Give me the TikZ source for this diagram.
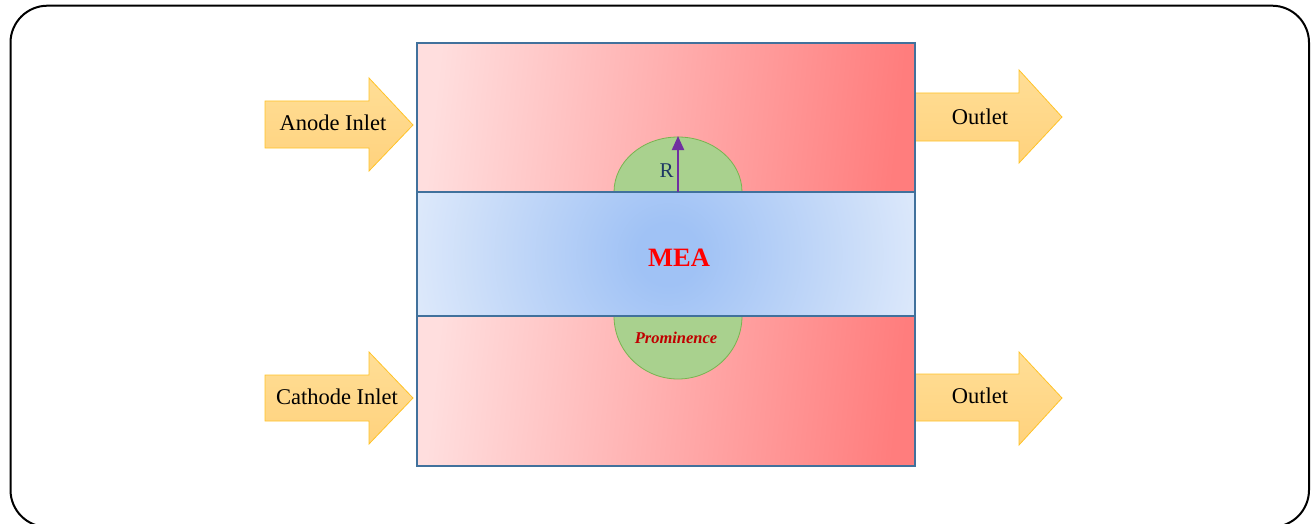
\documentclass[tikz,border=0pt]{standalone}
\usepackage{fontspec}
\setmainfont{Liberation Serif}
\usetikzlibrary{arrows.meta}
\definecolor{boxline}{RGB}{65,113,156}
\definecolor{chanL}{RGB}{255,222,222}
\definecolor{chanR}{RGB}{255,125,125}
\definecolor{meaEdge}{RGB}{226,236,251}
\definecolor{meaMid}{RGB}{160,194,245}
\definecolor{promFill}{RGB}{169,209,142}
\definecolor{promLine}{RGB}{120,180,80}
\definecolor{arrFillT}{RGB}{255,222,150}
\definecolor{arrFillB}{RGB}{255,210,125}
\definecolor{arrLine}{RGB}{255,195,40}
\definecolor{rArrow}{RGB}{112,48,160}
\definecolor{rText}{RGB}{31,56,100}
\definecolor{promText}{RGB}{192,0,0}
\pgfdeclareradialshading{meashade}{\pgfpoint{0bp}{0bp}}{color(0bp)=(meaMid); color(3bp)=(meaMid); color(27bp)=(meaEdge); color(50bp)=(meaEdge)}
\tikzset{
  flowarrow/.style={top color=arrFillT, bottom color=arrFillB, draw=arrLine, line width=0.8pt, line join=miter},
  channel/.style={shading=axis, top color=chanL, bottom color=chanR, shading angle=84},
  dome/.style={fill=promFill, draw=promLine, line width=0.8pt},
  boxborder/.style={draw=boxline, line width=2pt},
  lbl/.style={font=\fontsize{22.5}{27}\selectfont, text=black, inner sep=0pt},
}
\begin{document}
\begin{tikzpicture}[x=1pt,y=-1pt]
\useasboundingbox (0,0) rectangle (1311,524);
\begin{scope}
\clip (0,0) rectangle (1311,524);
\draw[black, line width=2pt, rounded corners=37pt] (10.5,5.7) rectangle (1309,527);
\end{scope}
% flow arrows
\path[flowarrow] (265,101)--(369,101)--(369,78)--(413,125)--(369,171)--(369,148)--(265,148)--cycle;
\path[flowarrow] (265,375)--(369,375)--(369,352)--(413,398)--(369,444)--(369,421)--(265,421)--cycle;
\path[flowarrow] (913,93)--(1019,93)--(1019,70)--(1062,117)--(1019,163)--(1019,141)--(913,141)--cycle;
\path[flowarrow] (913,374)--(1019,374)--(1019,352)--(1062,398)--(1019,445)--(1019,421)--(913,421)--cycle;
% channels
\shade[channel] (417,43) rectangle (915,192);
\shade[channel] (417,316) rectangle (915,466);
\begin{scope}
\clip (417,192) rectangle (915,316);
\fill[meaEdge] (417,192) rectangle (915,316);
\shade[shading=meashade] (412,-2) rectangle (924,510);
\end{scope}
% prominences
\path[dome] (614,192) arc[start angle=180, end angle=360, x radius=64, y radius=55] -- cycle;
\path[dome] (614,316) arc[start angle=180, end angle=0, x radius=64, y radius=63] -- cycle;
% borders
\draw[boxborder] (417,43) rectangle (915,192);
\draw[boxborder] (417,316) rectangle (915,466);
\draw[boxborder] (417,192) rectangle (915,316);
% R arrow
\coordinate (rbase) at (678,192);
\coordinate (rtop) at (678,136);
\draw[rArrow, line width=2pt, -{Triangle[length=14pt,width=12pt]}] (rbase) -- (rtop);
\node[lbl, text=rText, font=\fontsize{21}{25}\selectfont] (r) at (666.5,171) {R};
% labels
\node[lbl] (anode) at (333,123) {Anode Inlet};
\node[lbl] (cathode) at (337,397) {Cathode Inlet};
\node[lbl] (out1) at (980,117) {Outlet};
\node[lbl] (out2) at (980,396) {Outlet};
\node[inner sep=0pt, text=red, font=\fontsize{26.5}{30}\selectfont\bfseries] (mea) at (679,258) {MEA};
\node[inner sep=0pt, text=promText, font=\fontsize{16.5}{20}\selectfont\bfseries\itshape] (prom) at (676,338) {Prominence};
\end{tikzpicture}
\end{document}
